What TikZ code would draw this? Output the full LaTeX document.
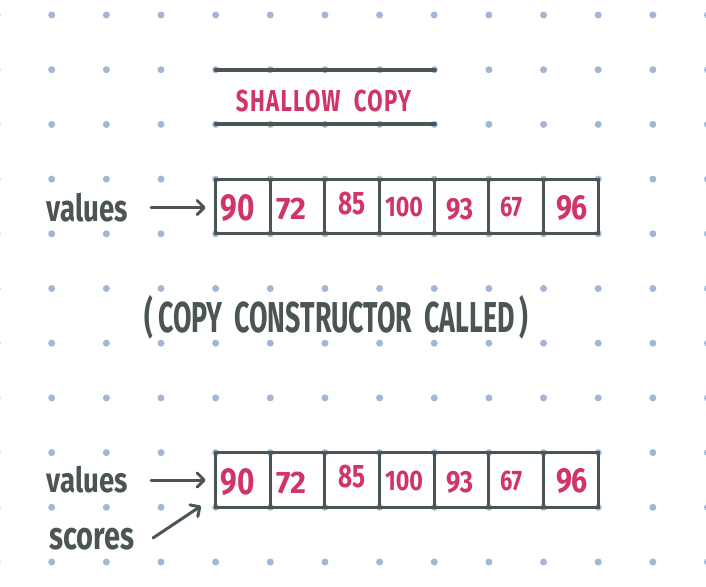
\documentclass[tikz,border=0pt]{standalone}
\usepackage{fontspec}
\setmainfont{Fira Sans}
\usetikzlibrary{arrows.meta}
\definecolor{dotc}{HTML}{A3B6D5}
\definecolor{ink}{HTML}{4B5654}
\definecolor{pinkc}{HTML}{D13467}
\newcommand\fitt[3]{\resizebox*{#1pt}{#2pt}{\bfseries #3}}
\tikzset{
  cell/.style={draw=ink, line width=3pt, minimum width=54.65pt, minimum height=54.7pt, inner sep=0pt},
  num/.style={text=pinkc, inner sep=0pt},
  word/.style={text=ink, inner sep=0pt},
  arr/.style={draw=ink, line width=3pt, line cap=round, -{Straight Barb[length=7pt,width=14pt,line width=3pt,round]}},
  rule/.style={draw=ink, line width=4pt, line cap=round},
}
\begin{document}
\begin{tikzpicture}[x=1pt,y=-1pt]
\useasboundingbox[fill=white] (0,0) rectangle (706,586);
% dot grid
\foreach \i in {-1,...,12}
  \foreach \j in {0,...,10}
    \fill[dotc] ({51.7+54.65*\i},{15+54.7*\j}) circle[radius=3.5pt];
% title rules
\coordinate (r1a) at (215.65,69.7);
\coordinate (r1b) at (434.9,69.7);
\coordinate (r2a) at (215.65,124.4);
\coordinate (r2b) at (434.9,124.4);
\draw[rule] (r1a) -- (r1b);
\draw[rule] (r2a) -- (r2b);
\node[num] (title) at (323.5,101) {\fitt{175}{22}{\addfontfeature{LetterSpace=6}SHALLOW\hspace{0.6em}COPY}};
% top array
\foreach \k in {1,...,7}
  \node[cell] (a\k) at ({242.95+54.65*(\k-1)},206.45) {};
\node[num] at (237.6,208.5) {\fitt{34}{27}{90}};
\node[num] at (291,209) {\fitt{30}{22}{72}};
\node[num] at (351.5,203.5) {\fitt{27}{23}{85}};
\node[num] at (404,207) {\fitt{38}{20}{100}};
\node[num] at (459.5,209) {\fitt{27}{22}{93}};
\node[num] at (511,207) {\fitt{22}{20}{67}};
\node[num] at (572,207.5) {\fitt{32}{25}{96}};
\node[word] (v1) at (87.5,207.5) {\fitt{81}{29}{values}};
\draw[arr, shorten <=23pt, shorten >=8.5pt] (v1.east) -- (v1.east -| a1.west);
% middle text
\node[word] (cc) at (336.5,317) {\fitt{383}{44}{(\,COPY\hspace{0.45em}CONSTRUCTOR\hspace{0.45em}CALLED\,)}};
% bottom array
\foreach \k in {1,...,7}
  \node[cell] (b\k) at ({242.95+54.65*(\k-1)},479.95) {};
\node[num] at (237.6,482) {\fitt{34}{27}{90}};
\node[num] at (291,482.5) {\fitt{30}{22}{72}};
\node[num] at (351.5,477) {\fitt{27}{23}{85}};
\node[num] at (404,480.5) {\fitt{38}{20}{100}};
\node[num] at (459.5,482.5) {\fitt{27}{22}{93}};
\node[num] at (511,480.5) {\fitt{22}{20}{67}};
\node[num] at (572,481) {\fitt{32}{25}{96}};
\node[word] (v2) at (87.5,480) {\fitt{81}{27}{values}};
\draw[arr, shorten <=23pt, shorten >=8.5pt] (v2.east) -- (v2.east -| b1.west);
\node[word] (sc) at (92,539) {\fitt{85}{22}{scores}};
\coordinate (scs) at (153,538);
\coordinate (sct) at (201,506);
\draw[arr] (scs) -- (sct);
\end{tikzpicture}
\end{document}
